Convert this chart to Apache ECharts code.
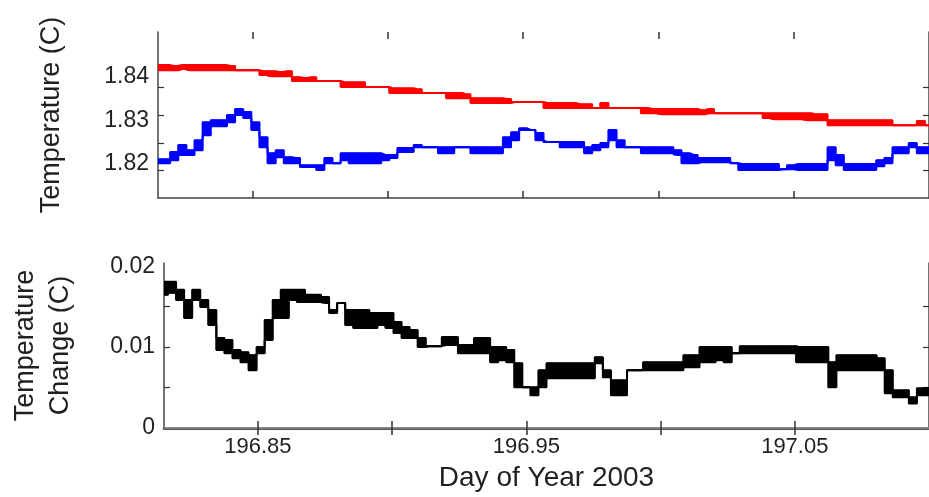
<!DOCTYPE html>
<html>
<head>
<meta charset="utf-8">
<script src="https://cdn.jsdelivr.net/npm/echarts@6/dist/echarts.min.js"></script>
<style>
  html, body { margin: 0; padding: 0; background: #fff; }
  #chart { width: 929px; height: 497px; }
</style>
</head>
<body>
<div id="chart"></div>
<script>
// day of year samples
var days = [
  196.815,196.818,196.821,196.824,196.827,196.830,196.833,196.836,196.839,196.842,
  196.845,196.848,196.851,196.854,196.857,196.860,196.863,196.866,196.869,196.872,
  196.875,196.878,196.881,196.884,196.887,196.890,196.893,196.896,196.899,196.902,
  196.905,196.908,196.911,196.914,196.917,196.920,196.923,196.926,196.929,196.932,
  196.935,196.938,196.941,196.944,196.947,196.950,196.953,196.956,196.959,196.962,
  196.965,196.968,196.971,196.974,196.977,196.980,196.983,196.986,196.989,196.992,
  196.995,196.998,197.001,197.004,197.007,197.010,197.013,197.016,197.019,197.022,
  197.025,197.028,197.031,197.034,197.037,197.040,197.043,197.046,197.049,197.052,
  197.055,197.058,197.061,197.064,197.067,197.070,197.073,197.076,197.079,197.082,
  197.085,197.088,197.091,197.094,197.097,197.100
];

// red trace (upper / lower edge of the noise band)
var redHi = [
  1.8428,1.8428,1.8426,1.8428,1.8428,1.8428,1.8428,1.8428,1.8428,1.8426,
  1.8416,1.8416,1.8416,1.8414,1.8414,1.8412,1.8414,1.8400,1.8398,1.8400,
  1.8391,1.8391,1.8391,1.8388,1.8388,1.8388,1.8377,1.8377,1.8377,1.8374,
  1.8374,1.8374,1.8372,1.8363,1.8363,1.8363,1.8363,1.8363,1.8360,1.8351,
  1.8351,1.8351,1.8351,1.8349,1.8342,1.8342,1.8342,1.8342,1.8340,1.8340,
  1.8340,1.8340,1.8337,1.8337,1.8328,1.8340,1.8328,1.8328,1.8328,1.8328,
  1.8328,1.8326,1.8326,1.8326,1.8326,1.8326,1.8326,1.8323,1.8326,1.8316,
  1.8316,1.8316,1.8316,1.8316,1.8316,1.8316,1.8316,1.8316,1.8316,1.8316,
  1.8316,1.8314,1.8314,1.8300,1.8300,1.8300,1.8300,1.8300,1.8300,1.8300,
  1.8300,1.8288,1.8288,1.8288,1.8298,1.8288
];
var redLo = [
  1.8416,1.8416,1.8416,1.8419,1.8416,1.8416,1.8416,1.8416,1.8416,1.8416,
  1.8416,1.8416,1.8416,1.8405,1.8402,1.8402,1.8402,1.8391,1.8391,1.8391,
  1.8391,1.8391,1.8391,1.8377,1.8377,1.8377,1.8377,1.8377,1.8377,1.8363,
  1.8363,1.8363,1.8363,1.8363,1.8363,1.8363,1.8351,1.8351,1.8351,1.8340,
  1.8340,1.8340,1.8340,1.8340,1.8342,1.8342,1.8342,1.8342,1.8328,1.8328,
  1.8328,1.8328,1.8328,1.8328,1.8328,1.8328,1.8328,1.8328,1.8328,1.8328,
  1.8316,1.8316,1.8314,1.8314,1.8314,1.8314,1.8314,1.8314,1.8316,1.8316,
  1.8316,1.8316,1.8316,1.8316,1.8316,1.8305,1.8302,1.8302,1.8302,1.8302,
  1.8300,1.8300,1.8300,1.8288,1.8288,1.8288,1.8288,1.8288,1.8288,1.8288,
  1.8288,1.8288,1.8288,1.8288,1.8288,1.8288
];

// blue trace
var blueHi = [
  1.8209,1.8209,1.8226,1.8242,1.8230,1.8253,1.8295,1.8300,1.8300,1.8312,
  1.8326,1.8319,1.8295,1.8260,1.8223,1.8230,1.8214,1.8212,1.8195,1.8195,
  1.8195,1.8212,1.8200,1.8223,1.8223,1.8223,1.8223,1.8223,1.8219,1.8219,
  1.8235,1.8235,1.8242,1.8237,1.8237,1.8237,1.8237,1.8237,1.8237,1.8237,
  1.8237,1.8237,1.8237,1.8260,1.8272,1.8281,1.8277,1.8270,1.8249,1.8249,
  1.8249,1.8249,1.8249,1.8237,1.8242,1.8247,1.8277,1.8253,1.8237,1.8237,
  1.8237,1.8237,1.8237,1.8237,1.8230,1.8223,1.8219,1.8212,1.8212,1.8212,
  1.8212,1.8200,1.8198,1.8198,1.8198,1.8198,1.8198,1.8186,1.8195,1.8198,
  1.8198,1.8198,1.8198,1.8237,1.8219,1.8198,1.8198,1.8198,1.8198,1.8207,
  1.8212,1.8237,1.8237,1.8247,1.8237,1.8237
];
var blueLo = [
  1.8200,1.8200,1.8207,1.8219,1.8219,1.8230,1.8265,1.8286,1.8286,1.8295,
  1.8312,1.8305,1.8277,1.8237,1.8200,1.8214,1.8200,1.8200,1.8191,1.8191,
  1.8184,1.8200,1.8200,1.8207,1.8200,1.8200,1.8200,1.8200,1.8207,1.8212,
  1.8226,1.8226,1.8237,1.8237,1.8237,1.8223,1.8223,1.8237,1.8237,1.8223,
  1.8223,1.8223,1.8223,1.8237,1.8253,1.8277,1.8277,1.8253,1.8249,1.8249,
  1.8237,1.8237,1.8237,1.8223,1.8230,1.8237,1.8253,1.8237,1.8237,1.8237,
  1.8223,1.8223,1.8223,1.8223,1.8219,1.8200,1.8200,1.8202,1.8202,1.8202,
  1.8202,1.8200,1.8184,1.8184,1.8184,1.8184,1.8184,1.8186,1.8186,1.8184,
  1.8184,1.8184,1.8184,1.8207,1.8195,1.8184,1.8184,1.8184,1.8184,1.8193,
  1.8200,1.8223,1.8223,1.8237,1.8223,1.8223
];

// temperature change (black)
var changeHi = [
  0.01807,0.01807,0.01708,0.01584,0.01708,0.01584,0.01460,0.01112,0.01087,0.00963,
  0.00938,0.00901,0.01000,0.01335,0.01584,0.01708,0.01708,0.01708,0.01646,0.01646,
  0.01621,0.01460,0.01547,0.01460,0.01460,0.01460,0.01422,0.01422,0.01422,0.01311,
  0.01248,0.01211,0.01112,0.01012,0.01012,0.01124,0.01124,0.01025,0.01025,0.01112,
  0.01112,0.01000,0.01000,0.00963,0.00801,0.00503,0.00503,0.00714,0.00801,0.00801,
  0.00801,0.00801,0.00801,0.00801,0.00876,0.00714,0.00590,0.00590,0.00714,0.00714,
  0.00814,0.00814,0.00814,0.00814,0.00814,0.00901,0.00901,0.01000,0.01000,0.01000,
  0.01000,0.00925,0.01012,0.01012,0.01012,0.01012,0.01012,0.01012,0.01012,0.01000,
  0.01000,0.01000,0.01000,0.00814,0.00901,0.00901,0.00901,0.00901,0.00901,0.00863,
  0.00714,0.00466,0.00466,0.00379,0.00491,0.00491
];
var changeLo = [
  0.01646,0.01671,0.01584,0.01360,0.01584,0.01497,0.01273,0.00963,0.00925,0.00863,
  0.00814,0.00714,0.00925,0.01087,0.01360,0.01360,0.01584,0.01559,0.01559,0.01559,
  0.01547,0.01422,0.01547,0.01273,0.01236,0.01236,0.01236,0.01273,0.01236,0.01174,
  0.01112,0.01112,0.01000,0.01012,0.01012,0.01025,0.01025,0.00925,0.00925,0.00925,
  0.00925,0.00814,0.00839,0.00814,0.00503,0.00503,0.00404,0.00503,0.00615,0.00615,
  0.00615,0.00615,0.00615,0.00615,0.00801,0.00627,0.00404,0.00404,0.00714,0.00714,
  0.00714,0.00714,0.00714,0.00714,0.00714,0.00752,0.00752,0.00814,0.00814,0.00839,
  0.00814,0.00925,0.00925,0.00925,0.00925,0.00925,0.00925,0.00925,0.00925,0.00814,
  0.00814,0.00814,0.00814,0.00503,0.00714,0.00714,0.00714,0.00714,0.00714,0.00714,
  0.00429,0.00379,0.00379,0.00304,0.00404,0.00404
];

// axis ticks / labels
var dayTicks = [196.85, 196.90, 196.95, 197.00, 197.05];
var dayLabels = [196.85, 196.95, 197.05];
var tempTicks = [1.8184, 1.8247, 1.8312, 1.8377];
var tempLabels = [1.82, 1.83, 1.84];
var changeTicks = [0.005, 0.01, 0.015];
var changeLabels = [0, 0.01, 0.02];

var FONT = 'Liberation Sans, Arial, sans-serif';
var TXT = '#231f20';

// a noisy trace: filled blocks between lo and hi, plus step lines on both edges
function band(name, hi, lo, color, xi, yi) {
    var rows = days.map(function (d, i) {
        var prev = i > 0 ? days[i - 1] : d - (days[1] - days[0]);
        var next = i < days.length - 1 ? days[i + 1] : d + (d - days[i - 1]);
        return [d, lo[i], hi[i], (d + prev) / 2, (d + next) / 2];
    });
    var line = {
        type: 'line', step: 'middle', symbol: 'none', silent: true,
        xAxisIndex: xi, yAxisIndex: yi, clip: true,
        lineStyle: { color: color, width: 2 }
    };
    return [
        {
            type: 'custom', name: name + '_band', xAxisIndex: xi, yAxisIndex: yi,
            silent: true, clip: true, data: rows,
            renderItem: function (params, api) {
                var a = api.coord([api.value(3), api.value(2)]);
                var b = api.coord([api.value(4), api.value(1)]);
                return {
                    type: 'rect',
                    shape: { x: a[0], y: a[1], width: b[0] - a[0], height: b[1] - a[1] },
                    style: { fill: color, stroke: color, lineWidth: 1 }
                };
            }
        },
        Object.assign({}, line, { name: name + '_lo', data: days.map(function (d, i) { return [d, lo[i]]; }) }),
        Object.assign({}, line, { name: name + '_hi', data: days.map(function (d, i) { return [d, hi[i]]; }) })
    ];
}

function xAx(grid, pos, opts) {
    return Object.assign({
        gridIndex: grid, type: 'value', position: pos,
        min: 196.815, max: 197.1,
        splitLine: { show: false },
        axisLine: { show: true, lineStyle: { color: '#444', width: 1.5 } },
        axisTick: { inside: true, length: 7, customValues: dayTicks,
            lineStyle: { color: '#333', width: 1.5 } },
        axisLabel: { show: false }
    }, opts);
}

function yAx(grid, pos, min, max, ticks, labels, opts) {
    return Object.assign({
        gridIndex: grid, type: 'value', position: pos, min: min, max: max,
        splitLine: { show: false },
        axisLine: { show: true, lineStyle: { color: '#444', width: 1.5 } },
        axisTick: { inside: true, length: 6, customValues: ticks,
            lineStyle: { color: '#333', width: 1.2 } },
        axisLabel: { show: pos === 'left', customValues: labels, margin: 9,
            fontFamily: FONT, fontSize: 23, color: TXT,
            formatter: function (v) { return v === 0 ? '0' : String(+v.toFixed(2)); } }
    }, opts);
}

var chart = echarts.init(document.getElementById('chart'));
var option = {
    animation: false,
    backgroundColor: '#fff',
    grid: [
        { left: 158, top: 32, width: 776, height: 166 },
        { left: 158, top: 263, width: 776, height: 165 }
    ],
    xAxis: [
        xAx(0, 'bottom'),
        xAx(0, 'top', { axisLine: { show: false } }),
        xAx(1, 'bottom', {
            axisLine: { show: true, lineStyle: { color: '#222', width: 2.5 } },
            axisLabel: { show: true, customValues: dayLabels, margin: 8,
                fontFamily: FONT, fontSize: 22, color: TXT,
                formatter: function (v) { return v.toFixed(2); } },
            name: 'Day of Year 2003', nameLocation: 'middle', nameGap: 36,
            nameTextStyle: { fontFamily: FONT, fontSize: 28, color: TXT,
                verticalAlign: 'top' }
        }),
        xAx(1, 'top', { axisLine: { show: true, lineStyle: { color: '#999', width: 1.5 } } })
    ],
    yAxis: [
        yAx(0, 'left', 1.8119, 1.8505, tempTicks, tempLabels, {
            name: 'Temperature (C)', nameLocation: 'middle', nameRotate: 90, nameGap: 93,
            nameTextStyle: { fontFamily: FONT, fontSize: 27, color: TXT }
        }),
        yAx(0, 'right', 1.8119, 1.8505, tempTicks, tempLabels),
        yAx(1, 'left', 0, 0.0204, changeTicks, changeLabels, {
            name: 'Temperature\nChange (C)', nameLocation: 'middle', nameRotate: 90, nameGap: 86,
            nameTextStyle: { fontFamily: FONT, fontSize: 27, color: TXT, lineHeight: 35 }
        }),
        yAx(1, 'right', 0, 0.0204, changeTicks, changeLabels)
    ],
    series: [].concat(
        band('red', redHi, redLo, '#ff0000', 0, 0),
        band('blue', blueHi, blueLo, '#0000ff', 0, 0),
        band('change', changeHi, changeLo, '#000000', 2, 2)
    )
};
chart.setOption(option);
</script>
</body>
</html>
